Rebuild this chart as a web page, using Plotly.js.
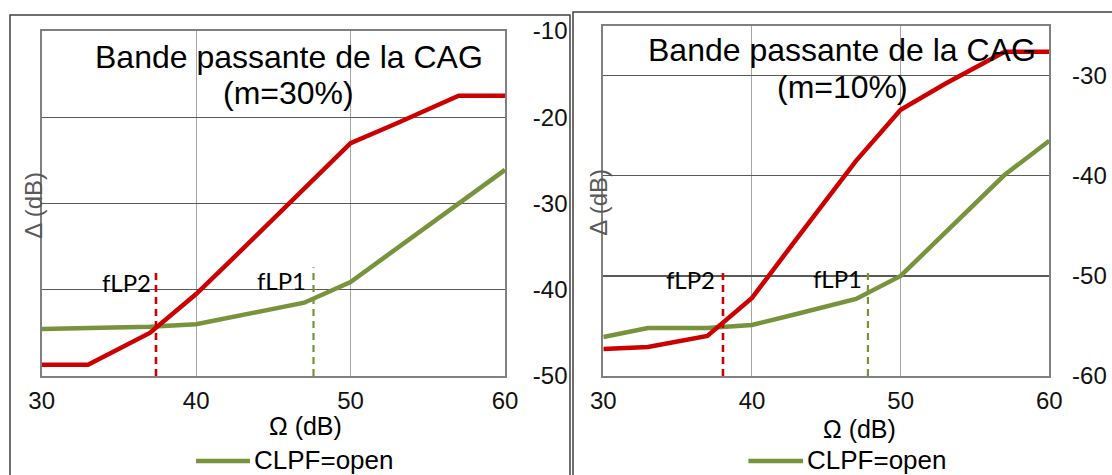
<!DOCTYPE html>
<html>
<head>
<meta charset="utf-8">
<script src="https://cdn.plot.ly/plotly-3.0.1.min.js"></script>
<style>html,body{margin:0;padding:0;background:#fff;}#chart{width:1112px;height:475px;}</style>
</head>
<body>
<div id="chart"></div>
<script>
// ---- data ----
const omega = [30, 33, 37, 40, 43, 47, 50, 53, 57, 60];
// m = 30 %
const red30   = [-48.7, -48.7, -45.0, -40.5, -35.3, -28.3, -23.0, -20.7, -17.5, -17.5];
const green30 = [-44.55, -44.45, -44.3, -44.0, -42.9, -41.5, -39.1, -35.2, -30.0, -26.1];
// m = 10 %
const red10   = [-57.3, -57.1, -56.0, -52.2, -46.3, -38.5, -33.4, -30.8, -27.6, -27.6];
const green10 = [-56.1, -55.2, -55.2, -54.9, -53.8, -52.3, -50.0, -45.7, -39.9, -36.5];
// cut-off markers [x, top]
const fLP2_30 = [37.4, -37.8], fLP1_30 = [47.6, -37.4];
const fLP2_10 = [38.05, -49.7], fLP1_10 = [47.8, -49.5];
const xTicks = [30, 40, 50, 60];
const yTicks30 = [-50, -40, -30, -20, -10];
const yTicks10 = [-60, -50, -40, -30];
const titles = ["Bande passante de la CAG", "(m=30%)", "(m=10%)"];
const legendName = "CLPF=open";

// ---- styling ----
const W = 1112, H = 475;
const px = x => x / W, py = y => 1 - y / H;
const RED = '#CC0000', GREEN = '#77933C';
const AR = 'Liberation Sans, Arial, sans-serif';

function curve(x, y, color, xa, ya) {
  return {x: x, y: y, xaxis: xa, yaxis: ya, mode: 'lines', type: 'scatter',
          line: {color: color, width: 4.5}, hoverinfo: 'skip', showlegend: false};
}
function marker(m, ymin, color, w, xa, ya) {
  return {x: [m[0], m[0]], y: [ymin, m[1]], xaxis: xa, yaxis: ya, mode: 'lines', type: 'scatter',
          line: {color: color, width: w, dash: '7px,5px'}, hoverinfo: 'skip', showlegend: false};
}

const traces = [
  curve(omega, green30, GREEN, 'x', 'y'),
  curve(omega, red30, RED, 'x', 'y'),
  marker(fLP2_30, -50, RED, 2.6, 'x', 'y'),
  marker(fLP1_30, -50, GREEN, 2.2, 'x', 'y'),
  curve(omega, green10, GREEN, 'x2', 'y2'),
  curve(omega, red10, RED, 'x2', 'y2'),
  marker(fLP2_10, -60, RED, 2.6, 'x2', 'y2'),
  marker(fLP1_10, -60, GREEN, 2.2, 'x2', 'y2')
];

const tickfont = {family: AR, size: 24, color: '#111'};
function xax(dom, anchor) {
  return {domain: dom, anchor: anchor, range: [30, 60], tickvals: xTicks,
          ticktext: xTicks.map(String), ticks: '',
          showgrid: true, gridcolor: '#a6a6a6', gridwidth: 1, zeroline: false,
          showline: true, mirror: true, linecolor: '#808080', linewidth: 2,
          tickfont: tickfont, ticklabelstandoff: 2, fixedrange: true};
}
function yax(dom, anchor, range, tv, standoff) {
  return {domain: dom, anchor: anchor, range: range, tickvals: tv,
          ticktext: tv.map(String), side: 'right', ticks: '',
          showgrid: true, gridcolor: '#595959', gridwidth: 1.2, zeroline: false,
          showline: true, mirror: true, linecolor: '#808080', linewidth: 2,
          tickfont: tickfont, ticklabelstandoff: standoff, fixedrange: true};
}

function ann(text, x, y, size, opts) {
  return Object.assign({text: text, xref: 'paper', yref: 'paper', x: px(x), y: py(y),
    xanchor: 'center', yanchor: 'middle', showarrow: false,
    font: {family: AR, size: size, color: '#000'}}, opts || {});
}
const LATO = {family: 'Lato, Carlito, sans-serif', size: 24, color: '#000'};

const annotations = [
  ann(titles[0], 288.6, 56.5, 32),
  ann(titles[1], 288.6, 93, 32),
  ann(titles[0], 842.2, 49.6, 32),
  ann(titles[2], 842.2, 86.6, 32),
  ann('Ω (dB)', 305.5, 425.7, 25),
  ann('Ω (dB)', 859.7, 428.5, 25),
  ann('Δ (dB)', 32.7, 205, 24, {textangle: -90, font: {family: AR, size: 24, color: '#595959'}}),
  ann('Δ (dB)', 598.7, 202, 24, {textangle: -90, font: {family: AR, size: 24, color: '#595959'}}),
  ann('fLP2', 153, 282.4, 24, {xanchor: 'right', font: LATO}),
  ann('fLP1', 308, 280.7, 24, {xanchor: 'right', font: LATO}),
  ann('fLP2', 717, 279, 24, {xanchor: 'right', font: LATO}),
  ann('fLP1', 863.5, 278, 24, {xanchor: 'right', font: LATO}),
  ann(legendName, 252, 459.5, 26, {xanchor: 'left'}),
  ann(legendName, 805, 459.5, 26, {xanchor: 'left'})
];

const shapes = [
  {type: 'rect', xref: 'paper', yref: 'paper', x0: px(10), x1: px(570), y0: py(15), y1: py(495),
   line: {color: '#404040', width: 1.5}, fillcolor: 'rgba(0,0,0,0)', layer: 'below'},
  {type: 'rect', xref: 'paper', yref: 'paper', x0: px(573), x1: px(1130), y0: py(12), y1: py(495),
   line: {color: '#404040', width: 1.5}, fillcolor: 'rgba(0,0,0,0)', layer: 'below'},
  {type: 'line', xref: 'paper', yref: 'paper', x0: px(196), x1: px(250), y0: py(461), y1: py(461),
   line: {color: GREEN, width: 4.5}},
  {type: 'line', xref: 'paper', yref: 'paper', x0: px(748.4), x1: px(803), y0: py(461), y1: py(461),
   line: {color: GREEN, width: 4.5}}
];

const layout = {
  width: W, height: H, margin: {l: 0, r: 0, t: 0, b: 0},
  paper_bgcolor: '#fff', plot_bgcolor: '#fff', showlegend: false,
  xaxis: xax([px(41.7), px(505)], 'y'),
  yaxis: yax([py(376), py(31)], 'x', [-50, -10], yTicks30, 21),
  xaxis2: xax([px(603.3), px(1049.3)], 'y2'),
  yaxis2: yax([py(376), py(25.7)], 'x2', [-60, -25], yTicks10, 16),
  annotations: annotations, shapes: shapes
};

Plotly.newPlot('chart', traces, layout, {staticPlot: true, displayModeBar: false});
</script>
</body>
</html>
